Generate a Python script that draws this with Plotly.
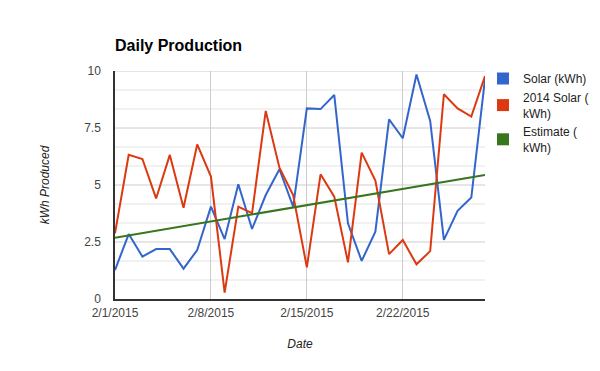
import plotly.graph_objects as go
import pandas as pd

dates = pd.date_range("2015-02-01", "2015-02-28", freq="D")
solar = [1.27, 2.85, 1.86, 2.19, 2.19, 1.33, 2.15, 4.05, 2.63, 5.03, 3.07, 4.56, 5.69, 4.05,
         8.36, 8.33, 8.95, 3.32, 1.67, 2.95, 7.88, 7.05, 9.85, 7.81, 2.59, 3.87, 4.45, 9.65]
solar_2014 = [2.88, 6.32, 6.14, 4.41, 6.32, 4.0, 6.78, 5.37, 0.28, 4.05, 3.76, 8.25, 5.76, 4.56,
              1.39, 5.47, 4.49, 1.61, 6.42, 5.19, 1.97, 2.59, 1.52, 2.1, 8.98, 8.36, 8.0, 9.78]
estimate_start, estimate_end = 2.69, 5.44
estimate = [estimate_start, estimate_end]
estimate_dates = [dates[0], dates[-1]]

series_names = ["Solar (kWh)", "2014 Solar (<br>kWh)", "Estimate (<br>kWh)"]
colors = ["#3366cc", "#dc3912", "#38761d"]

xtick_vals = ["2015-02-01", "2015-02-08", "2015-02-15", "2015-02-22"]
xtick_text = ["2/1/2015", "2/8/2015", "2/15/2015", "2/22/2015"]
y_max = 10
y_major_step = 2.5
minor_per_major = 3
n_minor = int(round(y_max / y_major_step * minor_per_major))
minor_vals = [i * y_major_step / minor_per_major
              for i in range(n_minor + 1) if i % minor_per_major != 0]
major_vals = [i * y_major_step for i in range(int(round(y_max / y_major_step)) + 1)]

fig = go.Figure()
for v in minor_vals:
    fig.add_hline(y=v, line=dict(color="#e3e3e3", width=1), layer="below")
for v in major_vals[1:]:
    fig.add_hline(y=v, line=dict(color="#cccccc", width=1), layer="below")

for xs, ys, c in [(dates, solar, colors[0]), (dates, solar_2014, colors[1]),
                  (estimate_dates, estimate, colors[2])]:
    fig.add_trace(go.Scatter(x=xs, y=ys, mode="lines", line=dict(color=c, width=2),
                             showlegend=False, hoverinfo="skip"))
for name, c in zip(series_names, colors):
    fig.add_trace(go.Scatter(x=[None], y=[None], mode="markers", name=name,
                             marker=dict(symbol="square", size=12, color=c)))

fig.update_layout(
    width=600, height=371,
    margin=dict(l=115, r=115, t=71, b=72, autoexpand=False),
    paper_bgcolor="white", plot_bgcolor="white",
    font=dict(family="Arial, Liberation Sans", size=12, color="#444"),
    title=dict(text="<b>Daily Production</b>", x=115 / 600, xanchor="left",
               y=1 - 45 / 371, yanchor="middle",
               font=dict(size=16, color="#000")),
    legend=dict(xref="container", x=483 / 600, xanchor="left",
                yref="container", y=1 - 64 / 371, yanchor="top",
                font=dict(size=12, color="#222"), tracegroupgap=8, itemwidth=30,
                bgcolor="rgba(0,0,0,0)"),
    xaxis=dict(type="date", range=[dates[0], dates[-1]],
               tickvals=xtick_vals, ticktext=xtick_text,
               showgrid=True, gridcolor="#cccccc", gridwidth=1,
               showline=True, linecolor="#333", linewidth=1.5,
               zeroline=False, ticks="", ticklabelstandoff=2,
               title=dict(text="<i>Date</i>", font=dict(size=12, color="#222"), standoff=20)),
    yaxis=dict(range=[0, y_max], tickmode="array", tickvals=major_vals,
               showgrid=False,
               showline=True, linecolor="#333", linewidth=1.5,
               zeroline=False, ticks="outside", ticklen=10, tickcolor="rgba(0,0,0,0)",
               title=dict(text="<i>kWh Produced</i>", font=dict(size=12, color="#222"), standoff=32)),
)

fig.write_html("out.html", post_script="document.body.style.margin='0';",
               config={"displayModeBar": False})
